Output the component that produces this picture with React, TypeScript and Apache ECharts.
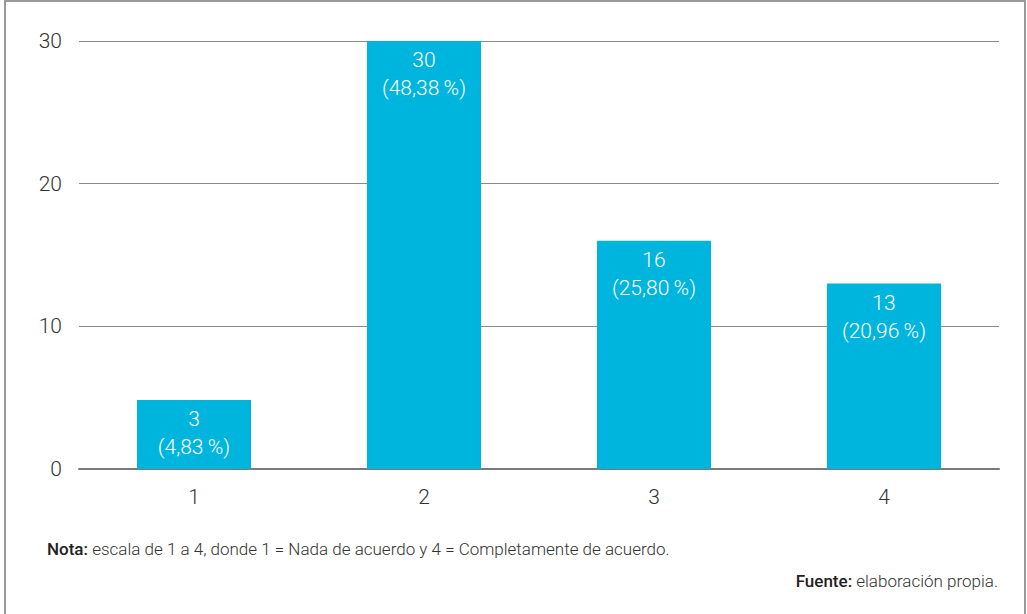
import React, { useEffect, useRef } from "react";
import * as echarts from "echarts";

const categories = ["1", "2", "3", "4"];
// bar heights as drawn in the picture (bar 1 is drawn at its percentage height)
const barHeights = [4.83, 30, 16, 13];
const counts = ["3", "30", "16", "13"];
const percents = ["4,83\u2009%", "48,38\u2009%", "25,80\u2009%", "20,96\u2009%"];
const yTicks = [0, 10, 20, 30];

const FONT = "Roboto";

export default function App() {
  const ref = useRef<HTMLDivElement>(null);
  useEffect(() => {
    if (!ref.current) return;
    const chart = echarts.init(ref.current, null, { renderer: "svg" });
    chart.setOption({
      animation: false,
      backgroundColor: "#ffffff",
      grid: { left: 79, right: 28, top: 41, bottom: 145, containLabel: false },
      xAxis: {
        type: "category",
        data: categories,
        axisLine: { show: true, lineStyle: { color: "#7a7a7a", width: 2 } },
        axisTick: { show: false },
        axisLabel: { color: "#333333", fontSize: 21, fontFamily: FONT, fontWeight: 300, margin: 17 },
      },
      yAxis: {
        type: "value",
        min: yTicks[0],
        max: yTicks[yTicks.length - 1],
        interval: 10,
        axisLine: { show: false },
        axisTick: { show: false },
        splitLine: { show: true, lineStyle: { color: "#8a8a8a", width: 1 } },
        axisLabel: { color: "#333333", fontSize: 21, fontFamily: FONT, fontWeight: 300, margin: 17 },
      },
      series: [
        {
          type: "bar",
          data: barHeights,
          barWidth: 114,
          itemStyle: { color: "#00b5dd" },
          label: {
            show: true,
            position: "insideTop",
            distance: 5,
            color: "#ffffff",
            fontSize: 21,
            lineHeight: 28,
            fontFamily: FONT,
            fontWeight: 300,
            formatter: (p: any) => `${counts[p.dataIndex]}\n(${percents[p.dataIndex]})`,
          },
        },
      ],
      graphic: [
        {
          type: "rect",
          shape: { x: 5, y: 1, width: 1020, height: 620 },
          style: { fill: "none", stroke: "#9a9a9a", lineWidth: 2 },
          silent: true,
        },
        {
          type: "text",
          left: 47,
          top: 540,
          style: {
            text: "{b|Nota:} escala de 1 a 4, donde 1 = Nada de acuerdo y 4 = Completamente de acuerdo.",
            fontSize: 17,
            fontFamily: FONT,
            fontWeight: 300,
            fill: "#333333",
            rich: {
              b: { fontSize: 17, fontFamily: FONT, fontWeight: 500, fill: "#222222" },
            },
          },
        },
        {
          type: "text",
          right: 29,
          top: 572,
          style: {
            text: "{b|Fuente:} elaboración propia.",
            fontSize: 17,
            fontFamily: FONT,
            fontWeight: 300,
            fill: "#333333",
            rich: {
              b: { fontSize: 17, fontFamily: FONT, fontWeight: 500, fill: "#222222" },
            },
          },
        },
      ],
    });
    return () => chart.dispose();
  }, []);
  return (
    <div
      ref={ref}
      style={{ position: "fixed", left: 0, top: 0, width: 1027, height: 614 }}
    />
  );
}
